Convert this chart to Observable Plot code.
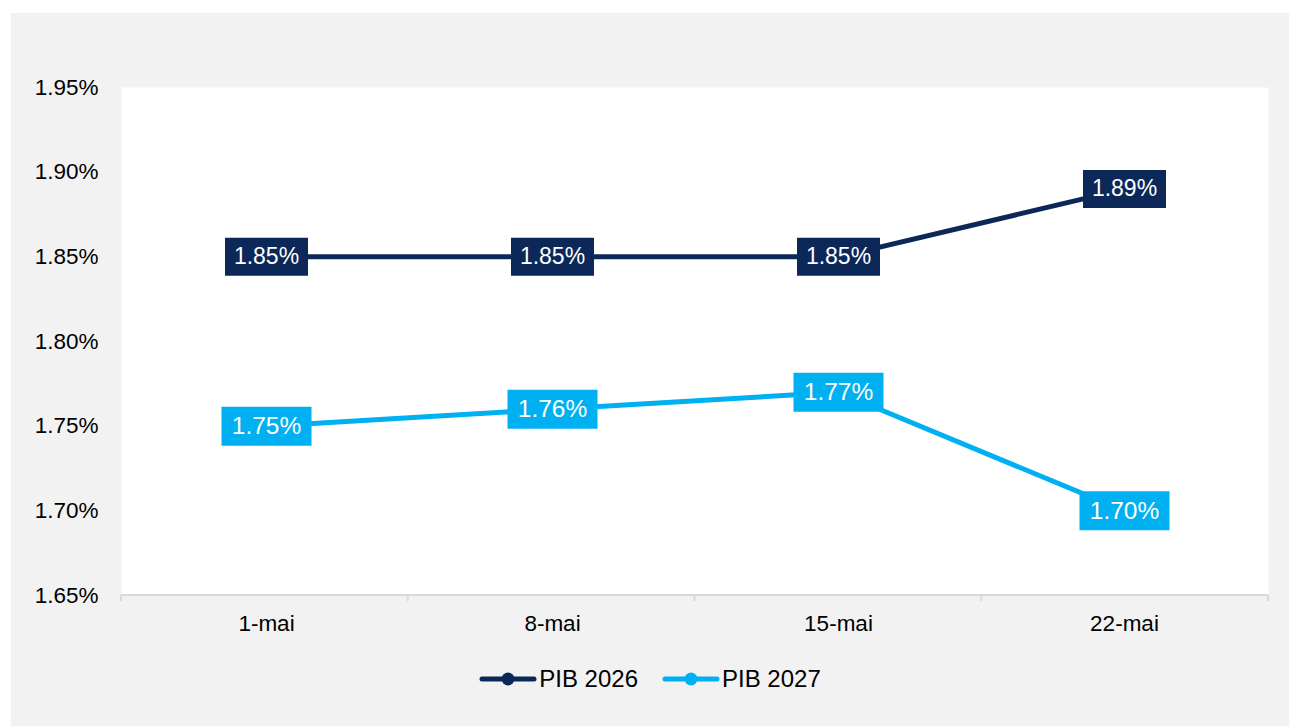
<!DOCTYPE html>
<html>
<head>
<meta charset="utf-8">
<script src="https://cdn.jsdelivr.net/npm/d3@7"></script>
<script src="https://cdn.jsdelivr.net/npm/@observablehq/plot@0.6"></script>
<style>
  html, body { margin: 0; padding: 0; background: #ffffff; }
  #panel { position: absolute; left: 11px; top: 13px; width: 1278px; height: 713px; background: #f2f2f2; font-family: "Liberation Sans", Arial, sans-serif; }
  #legend { position: absolute; left: 0; top: 652px; width: 1278px; display: flex; justify-content: center; align-items: center; font-size: 24px; color: #000; }
  .item { display: flex; align-items: center; margin: 0 12px; }
  .item span { margin-left: 2px; }
</style>
</head>
<body>
<div id="panel"><div id="chart"></div><div id="legend"></div></div>
<script>
const dates = ["1-mai", "8-mai", "15-mai", "22-mai"];
const pib2026 = [1.85, 1.85, 1.85, 1.89];
const pib2027 = [1.75, 1.76, 1.77, 1.70];
const seriesNames = ["PIB 2026", "PIB 2027"];
const seriesColors = ["#0c2859", "#00b0f0"];
const yTicks = [1.65, 1.70, 1.75, 1.80, 1.85, 1.90, 1.95];

const rows = [];
[pib2026, pib2027].forEach((vals, s) => {
  vals.forEach((v, i) => rows.push({date: dates[i], value: v, series: seriesNames[s]}));
});
const rows26 = rows.filter(d => d.series === seriesNames[0]);
const rows27 = rows.filter(d => d.series === seriesNames[1]);

function boxSymbol(w, h) {
  return { draw(ctx) { ctx.rect(-w / 2, -h / 2, w, h); } };
}

const baseline = (index, scales, values, dims) => {
  const {width, height, marginLeft, marginRight, marginBottom} = dims;
  const y0 = height - marginBottom;
  const g = d3.create("svg:g").attr("stroke", "#d9d9d9").attr("stroke-width", 2);
  g.append("line").attr("x1", marginLeft).attr("x2", width - marginRight).attr("y1", y0).attr("y2", y0);
  const step = (width - marginLeft - marginRight) / dates.length;
  for (let i = 0; i <= dates.length; i++) {
    const x = marginLeft + i * step;
    g.append("line").attr("x1", x).attr("x2", x).attr("y1", y0).attr("y2", y0 + 6);
  }
  return g.node();
};

const fmt = d => d.toFixed(2) + "%";

const chart = Plot.plot({
  width: 1278,
  height: 640,
  marginLeft: 110,
  marginRight: 21,
  marginTop: 74,
  marginBottom: 58,
  style: {background: "transparent", fontFamily: "'Liberation Sans', Arial, sans-serif", fontSize: "22.5px", color: "#000"},
  x: {type: "band", domain: dates, padding: 0, label: null, tickSize: 0, tickPadding: 20},
  y: {domain: [1.65, 1.95], ticks: yTicks, tickFormat: fmt, label: null, tickSize: 0, tickPadding: 23},
  color: {domain: seriesNames, range: seriesColors},
  marks: [
    Plot.frame({fill: "white", stroke: "none"}),
    baseline,
    Plot.line(rows, {x: "date", y: "value", z: "series", stroke: "series", strokeWidth: 5}),
    Plot.dot(rows26, {x: "date", y: "value", symbol: boxSymbol(83, 38), r: 10, fill: seriesColors[0], stroke: "none"}),
    Plot.dot(rows27, {x: "date", y: "value", symbol: boxSymbol(90, 39), r: 10, fill: seriesColors[1], stroke: "none"}),
    Plot.text(rows26, {x: "date", y: "value", text: d => fmt(d.value), fill: "white", fontSize: 23}),
    Plot.text(rows27, {x: "date", y: "value", text: d => fmt(d.value), fill: "white", fontSize: 24.5})
  ]
});
document.getElementById("chart").appendChild(chart);

const legend = document.getElementById("legend");
seriesNames.forEach((name, i) => {
  const item = document.createElement("div");
  item.className = "item";
  item.innerHTML = `<svg width="58" height="16"><line x1="3" x2="55" y1="8" y2="8" stroke="${seriesColors[i]}" stroke-width="5" stroke-linecap="round"/><circle cx="29" cy="8" r="6.5" fill="${seriesColors[i]}"/></svg><span>${name}</span>`;
  legend.appendChild(item);
});
</script>
</body>
</html>
